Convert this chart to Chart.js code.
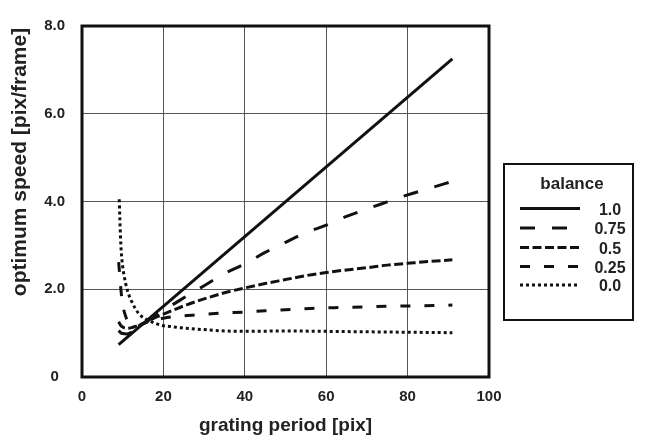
<!DOCTYPE html>
<html>
<head>
<meta charset="utf-8">
<script src="https://cdn.jsdelivr.net/npm/chart.js@4.4.1/dist/chart.umd.min.js"></script>
<style>
  html, body { margin: 0; padding: 0; background: #ffffff; }
  #wrap { width: 645px; height: 441px; position: relative; }
</style>
</head>
<body>
<div id="wrap"><canvas id="c" width="645" height="441"></canvas></div>
<script>
// ---- data ----
const balanceLabels = ['1.0', '0.75', '0.5', '0.25', '0.0'];

const period100 = [9, 91];
const speed100  = [0.74, 7.25];

const period075 = [9, 9.5, 10, 11, 12, 13, 14, 15, 17, 20, 23, 26, 30, 35, 40, 45, 50, 55, 60, 65, 70, 75, 80, 85, 91];
const speed075  = [1.06, 1.01, 0.99, 0.98, 1.01, 1.06, 1.12, 1.19, 1.33, 1.52, 1.69, 1.86, 2.08, 2.36, 2.58, 2.84, 3.07, 3.29, 3.46, 3.66, 3.83, 3.99, 4.15, 4.29, 4.46];

const period050 = [9, 9.5, 10, 11, 12, 13, 14, 15, 17, 19.4, 22, 25, 30, 35, 40, 45, 50, 55, 60, 65, 70, 75, 80, 85, 91];
const speed050  = [1.26, 1.18, 1.14, 1.11, 1.12, 1.15, 1.18, 1.22, 1.31, 1.41, 1.51, 1.62, 1.78, 1.92, 2.03, 2.13, 2.22, 2.31, 2.38, 2.44, 2.49, 2.55, 2.59, 2.63, 2.67];

const period025 = [9, 9.3, 9.6, 10, 10.5, 11, 12, 13, 14, 15, 17, 20, 23, 27, 30, 35, 40, 45, 50, 56, 62, 70, 80, 88, 91];
const speed025  = [2.62, 2.3, 1.95, 1.65, 1.45, 1.32, 1.21, 1.16, 1.17, 1.21, 1.28, 1.34, 1.38, 1.41, 1.43, 1.46, 1.48, 1.51, 1.53, 1.56, 1.58, 1.60, 1.62, 1.63, 1.64];

const period000 = [9.15, 9.3, 9.45, 9.65, 9.95, 10.3, 11.1, 12.3, 14, 15.5, 17.3, 19.4, 21.8, 24.3, 30, 35, 40, 50, 60, 70, 80, 91];
const speed000  = [4.05, 3.6, 3.2, 2.85, 2.55, 2.33, 1.99, 1.70, 1.44, 1.33, 1.25, 1.18, 1.15, 1.12, 1.08, 1.05, 1.04, 1.05, 1.04, 1.03, 1.02, 1.01];

const xTickLabels = ['0', '20', '40', '60', '80', '100'];
const yTickLabels = ['0', '2.0', '4.0', '6.0', '8.0'];

// ---- styling ----
const FONT = '"Liberation Sans", Arial, Helvetica, sans-serif';
const dashes = [[], [15, 17], [9, 3.5], [10, 14], [3, 3]];

function pts(xs, ys) { return xs.map((x, i) => ({ x: x, y: ys[i] })); }

const seriesX = [period100, period075, period050, period025, period000];
const seriesY = [speed100, speed075, speed050, speed025, speed000];

const datasets = balanceLabels.map((lab, i) => ({
  label: lab,
  data: pts(seriesX[i], seriesY[i]),
  borderColor: '#111111',
  borderWidth: 3,
  borderDash: dashes[i],
  borderCapStyle: 'butt',
  pointRadius: 0,
  fill: false,
  cubicInterpolationMode: 'monotone'
}));

const decorPlugin = {
  id: 'decor',
  afterDatasetsDraw(chart) {
    const ctx = chart.ctx;
    const a = chart.chartArea;
    ctx.save();
    ctx.strokeStyle = '#111111';
    ctx.lineWidth = 3;
    ctx.setLineDash([]);
    ctx.strokeRect(a.left, a.top, a.right - a.left, a.bottom - a.top);
    ctx.restore();
  },
  afterDraw(chart) {
    const ctx = chart.ctx;
    ctx.save();
    // y axis title
    ctx.fillStyle = '#222222';
    ctx.font = 'bold 21px ' + FONT;
    ctx.textAlign = 'center';
    ctx.textBaseline = 'middle';
    ctx.translate(20, 162);
    ctx.rotate(-Math.PI / 2);
    ctx.fillText('optimum speed [pix/frame]', 0, 0);
    ctx.restore();

    // legend
    ctx.save();
    ctx.strokeStyle = '#111111';
    ctx.lineWidth = 2;
    ctx.setLineDash([]);
    ctx.strokeRect(504, 164, 129, 156);
    ctx.fillStyle = '#222222';
    ctx.textAlign = 'center';
    ctx.textBaseline = 'middle';
    ctx.font = 'bold 17px ' + FONT;
    ctx.fillText('balance', 572, 184);
    ctx.font = 'bold 16px ' + FONT;
    const rows = [210, 229.5, 249, 268, 286.5];
    balanceLabels.forEach((lab, i) => {
      const y = rows[i];
      ctx.beginPath();
      ctx.lineWidth = 3;
      ctx.lineCap = 'butt';
      ctx.setLineDash(dashes[i]);
      ctx.moveTo(520, y - 1.5);
      ctx.lineTo(580, y - 1.5);
      ctx.stroke();
      ctx.setLineDash([]);
      ctx.fillText(lab, 610, y + 0.5);
    });
    ctx.restore();
  }
};

new Chart(document.getElementById('c'), {
  type: 'line',
  data: { datasets: datasets },
  options: {
    responsive: false,
    devicePixelRatio: 1,
    animation: false,
    layout: { padding: { left: 0, top: 14, right: 156, bottom: 0 } },
    plugins: { legend: { display: false }, tooltip: { enabled: false } },
    scales: {
      x: {
        type: 'linear',
        min: 0, max: 100,
        afterFit(s) { s.height = 64; },
        ticks: {
          stepSize: 20,
          padding: 11,
          color: '#222222',
          font: { family: FONT, size: 15, weight: 'bold' },
          callback: (v) => xTickLabels[Math.round(v / 20)]
        },
        grid: {
          drawTicks: false,
          lineWidth: 1,
          color: (c) => (c.tick && (c.tick.value === 0 || c.tick.value === 100)) ? 'rgba(0,0,0,0)' : '#555555'
        },
        border: { display: false },
        title: {
          display: true,
          text: 'grating period [pix]',
          color: '#222222',
          font: { family: FONT, size: 19, weight: 'bold' },
          padding: { top: 0, bottom: 4 }
        }
      },
      y: {
        type: 'linear',
        min: 0, max: 8,
        afterFit(s) { s.width = 82; },
        ticks: {
          stepSize: 2,
          padding: 17,
          crossAlign: 'center',
          color: '#222222',
          font: { family: FONT, size: 15, weight: 'bold' },
          callback: (v) => yTickLabels[Math.round(v / 2)]
        },
        grid: {
          drawTicks: false,
          lineWidth: 1,
          color: (c) => (c.tick && (c.tick.value === 0 || c.tick.value === 8)) ? 'rgba(0,0,0,0)' : '#555555'
        },
        border: { display: false }
      }
    }
  },
  plugins: [decorPlugin]
});
</script>
</body>
</html>
